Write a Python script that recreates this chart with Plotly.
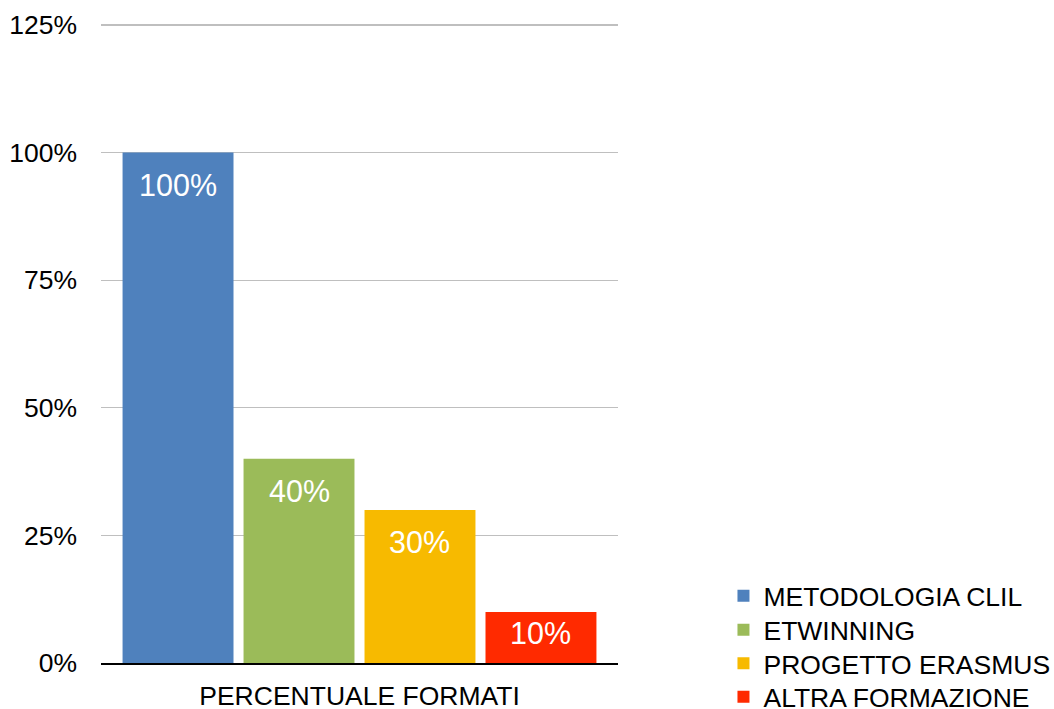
import plotly.graph_objects as go

categories = ["PERCENTUALE FORMATI"]
series_names = ["METODOLOGIA CLIL", "ETWINNING", "PROGETTO ERASMUS", "ALTRA FORMAZIONE"]
series_values = [1.00, 0.40, 0.30, 0.10]
series_colors = ["#4F81BD", "#9BBB59", "#F7BA00", "#FF2A00"]
tick_vals = [0, 0.25, 0.5, 0.75, 1.0, 1.25]
tick_text = ["0%", "25%", "50%", "75%", "100%", "125%"]

FONT = "Liberation Sans, Arial, sans-serif"
W, H = 1054, 709
EXTRA = 3                      # extra px above 125% so its gridline is drawn
ML, MR, MT, MB = 101, 436, 25 - EXTRA, 46
plot_h = H - MT - MB
y_top = 1.25
px_per_unit = (plot_h - EXTRA) / y_top
y_max = y_top + EXTRA / px_per_unit

legend_ids = ["legend", "legend2", "legend3", "legend4"]
legend_centers_px = [596, 630, 663.5, 697]   # pixel centers of legend rows

fig = go.Figure()
for name, v, c, lg in zip(series_names, series_values, series_colors, legend_ids):
    fig.add_trace(go.Bar(
        x=categories, y=[v], name=name, marker=dict(color=c, line=dict(width=0)),
        hoverinfo="skip", legend=lg,
    ))

n = len(series_values)
bargap = 0.064
for i, v in enumerate(series_values):
    bar_px = v * px_per_unit
    shift = -min(32, bar_px * 0.41)
    group_w = 1 - bargap
    slot = group_w / n
    xoff = -group_w / 2 + slot * (i + 0.5)
    fig.add_annotation(
        x=xoff, y=v, xref="x", yref="y", text=f"{int(round(v*100))}%",
        showarrow=False, yshift=shift, yanchor="middle",
        font=dict(family=FONT, size=30.5, color="white"),
    )

legend_common = dict(
    xanchor="left", yanchor="middle", x=1.204,
    font=dict(family=FONT, size=26.5, color="black"),
    bgcolor="rgba(0,0,0,0)", borderwidth=0,
)
legend_layout = {}
plot_bottom = MT + plot_h
for lg, cy in zip(legend_ids, legend_centers_px):
    yp = (plot_bottom - cy) / plot_h
    legend_layout[lg] = dict(legend_common, y=yp)

fig.update_layout(
    width=W, height=H,
    margin=dict(l=ML, r=MR, t=MT, b=MB, autoexpand=False),
    paper_bgcolor="white", plot_bgcolor="white",
    barmode="group", bargap=bargap, bargroupgap=0.083,
    font=dict(family=FONT, size=26.5, color="black"),
    showlegend=True,
    **legend_layout,
)
fig.update_xaxes(
    type="category", showgrid=False, showline=True, linecolor="black", linewidth=1.6,
    ticks="", tickfont=dict(family=FONT, size=26.5, color="black"),
    ticklabelstandoff=9, automargin=False, fixedrange=True,
)
fig.update_yaxes(
    range=[0, y_max], tickvals=tick_vals, ticktext=tick_text,
    showgrid=True, gridcolor="#BFBFBF", gridwidth=1.3, zeroline=False,
    showline=False, ticks="", tickfont=dict(family=FONT, size=26.5, color="black"),
    ticklabelstandoff=23, automargin=False, fixedrange=True,
)

fig.write_html(
    "out.html",
    config={"displayModeBar": False, "staticPlot": True},
    post_script="document.body.style.margin='0';document.body.style.overflow='hidden';",
)
